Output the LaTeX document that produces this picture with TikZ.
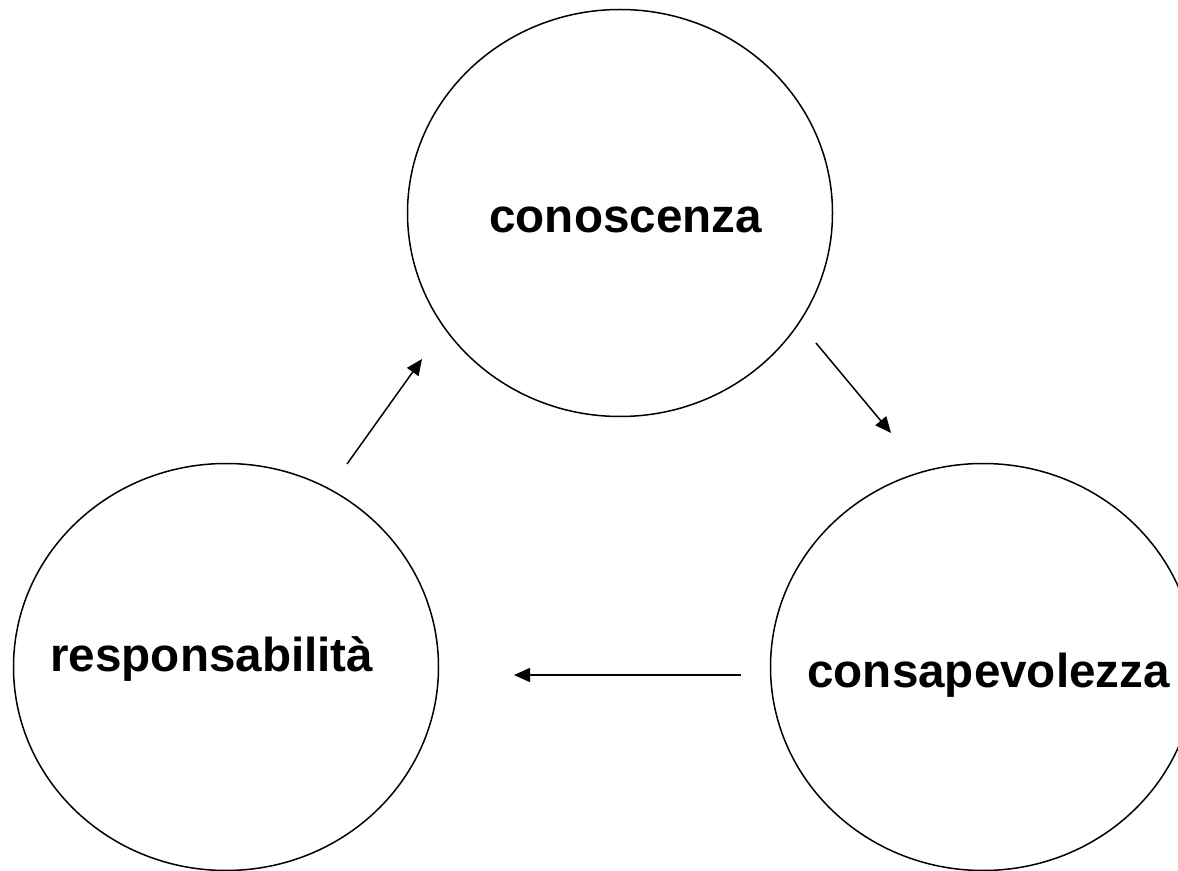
\documentclass[tikz,border=0pt]{standalone}
\usepackage{fontspec}
\setmainfont{Liberation Sans}
\usepackage{tikz}
\usetikzlibrary{shapes.geometric,arrows.meta}

\begin{document}
\begin{tikzpicture}[x=0.5pt,y=-0.5pt,
		ring/.style={draw, ellipse, line width=0.75pt, minimum width=212.5pt, minimum height=203.5pt, inner sep=0pt},
		word/.style={anchor=base west, inner sep=0pt, font=\fontsize{23.8}{28}\selectfont\bfseries},
		flow/.style={-{Triangle[length=8pt,width=7pt]}, line width=0.75pt}]
		\clip (0,0) rectangle (1178,871);

		% the three circles
		\node[ring] (cono) at (620,213) {};
		\node[ring] (resp) at (226,667) {};
		\node[ring] (cons) at (983,667) {};

		\node[word] (conoT) at (489,233) {conoscenza};
		\node[word] (respT) at (50,671) {responsabilità};
		\node[word] (consT) at (807,687) {consapevolezza};

		% free arrow ends
		\coordinate (a1) at (347,464);
		\coordinate (a2) at (422,359);
		\coordinate (b1) at (816,343);
		\coordinate (b2) at (891,433);
		\coordinate (c1) at (741,675);
		\coordinate (c2) at (514,675);

		\draw[flow] (a1) -- (a2);
		\draw[flow] (b1) -- (b2);
		\draw[flow] (c1) -- (c2);
	\end{tikzpicture}
\end{document}
